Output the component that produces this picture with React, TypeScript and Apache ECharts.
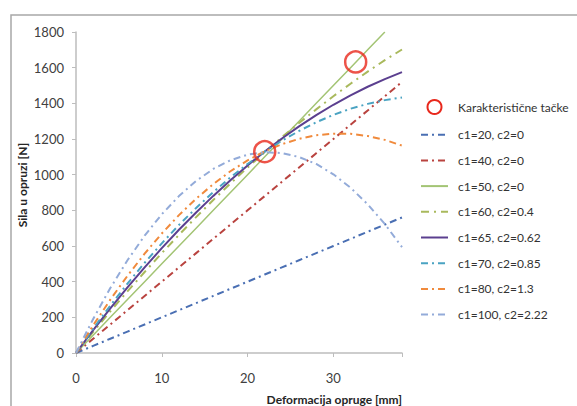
import React, { useEffect, useRef } from "react";
import * as echarts from "echarts";

const xValues = [0, 2, 4, 6, 8, 10, 12, 14, 16, 18, 20, 22, 24, 26, 28, 30, 32, 34, 36, 38];
const xGreen = [0, 2, 4, 6, 8, 10, 12, 14, 16, 18, 20, 22, 24, 26, 28, 30, 32, 34, 36];

const s20 = [0, 40, 80, 120, 160, 200, 240, 280, 320, 360, 400, 440, 480, 520, 560, 600, 640, 680, 720, 760];
const s40 = [0, 80, 160, 240, 320, 400, 480, 560, 640, 720, 800, 880, 960, 1040, 1120, 1200, 1280, 1360, 1440, 1520];
const s50 = [0, 100, 200, 300, 400, 500, 600, 700, 800, 900, 1000, 1100, 1200, 1300, 1400, 1500, 1600, 1700, 1800];
const s60 = [0, 118, 234, 346, 454, 560, 662, 762, 858, 950, 1040, 1126, 1210, 1290, 1366, 1440, 1510, 1578, 1642, 1702];
const s65 = [0, 128, 250, 368, 480, 588, 691, 788, 881, 969, 1052, 1130, 1203, 1271, 1334, 1392, 1445, 1493, 1536, 1575];
const s70 = [0, 137, 266, 389, 506, 615, 718, 813, 902, 985, 1060, 1129, 1190, 1245, 1294, 1335, 1370, 1397, 1418, 1433];
const s80 = [0, 155, 299, 433, 557, 670, 773, 865, 947, 1019, 1080, 1131, 1171, 1201, 1221, 1230, 1229, 1217, 1195, 1163];
const s100 = [0, 191, 364, 520, 658, 778, 880, 965, 1032, 1081, 1112, 1126, 1121, 1099, 1060, 1002, 927, 834, 723, 594];

const charX = [22, 32.6];
const charY = [1129, 1632];

const yTicks = [0, 200, 400, 600, 800, 1000, 1200, 1400, 1600, 1800];
const xTicks = [0, 10, 20, 30];

const FONT = "Lato";
const DASHDOT = [7, 4, 2, 4];

function lineSeries(name: string, xs: number[], ys: number[], color: string, width: number, type: any) {
  return {
    name,
    type: "line",
    data: xs.map((x, i) => [x, ys[i]]),
    symbol: "none",
    showSymbol: false,
    lineStyle: { color, width, type },
    itemStyle: { color },
    z: 2,
  };
}

const lineNames = [
  "c1=20, c2=0",
  "c1=40, c2=0",
  "c1=50, c2=0",
  "c1=60, c2=0.4",
  "c1=65, c2=0.62",
  "c1=70, c2=0.85",
  "c1=80, c2=1.3",
  "c1=100, c2=2.22",
];

export default function App() {
  const ref = useRef<HTMLDivElement>(null);
  useEffect(() => {
    document.body.style.margin = "0";
    const chart = echarts.init(ref.current!, null, { renderer: "svg" });
    const option = {
      animation: false,
      backgroundColor: "#ffffff",
      textStyle: { fontFamily: FONT },
      grid: { left: 76, right: 175, top: 32, bottom: 53, containLabel: false },
      xAxis: {
        type: "value",
        min: 0,
        max: 38,
        interval: 10,
        axisLine: { show: true, lineStyle: { color: "#bdbdbd", width: 1.5 } },
        axisTick: { show: true, length: 4, lineStyle: { color: "#bdbdbd" } },
        axisLabel: {
          color: "#404040",
          fontSize: 13,
          fontFamily: FONT,
          margin: 18,
          formatter: (v: number) => (xTicks.includes(v) ? String(v) : ""),
        },
        splitLine: { show: false },
      },
      yAxis: {
        type: "value",
        min: 0,
        max: 1800,
        interval: 200,
        axisLine: { show: true, lineStyle: { color: "#bdbdbd", width: 1.5 } },
        axisTick: { show: true, length: 4, lineStyle: { color: "#bdbdbd" } },
        axisLabel: {
          color: "#404040",
          fontSize: 13,
          fontFamily: FONT,
          margin: 12,
          formatter: (v: number) => (yTicks.includes(v) ? String(v) : ""),
        },
        splitLine: { show: false },
      },
      legend: {
        orient: "vertical",
        left: 415,
        top: 94,
        itemWidth: 27,
        itemHeight: 14,
        itemGap: 13.7,
        itemStyle: { opacity: 0 },
        textStyle: { fontFamily: FONT, fontSize: 12, color: "#333333", padding: [0, 0, 0, 5] },
        data: [
          { name: "Karakteristične tačke", icon: "circle", itemStyle: { opacity: 1 } },
          ...lineNames,
        ],
      },
      series: [
        lineSeries(lineNames[0], xValues, s20, "#4a6fb3", 2, DASHDOT),
        lineSeries(lineNames[1], xValues, s40, "#b9433f", 2, DASHDOT),
        lineSeries(lineNames[2], xGreen, s50, "#a3c474", 1.5, "solid"),
        lineSeries(lineNames[3], xValues, s60, "#a9b95c", 2, [8, 5, 2, 5]),
        lineSeries(lineNames[4], xValues, s65, "#5b3f8f", 2, "solid"),
        lineSeries(lineNames[5], xValues, s70, "#4aa3c2", 2, DASHDOT),
        lineSeries(lineNames[6], xValues, s80, "#f08a3c", 2, DASHDOT),
        lineSeries(lineNames[7], xValues, s100, "#93abd9", 2, DASHDOT),
        {
          name: "Karakteristične tačke",
          type: "scatter",
          data: charX.map((x, i) => [x, charY[i]]),
          symbol: "circle",
          symbolSize: 21,
          itemStyle: { color: "rgba(255,255,255,0)", borderColor: "#e8281c", borderWidth: 2.5 },
          z: 5,
        },
      ],
      graphic: [
        {
          type: "rect",
          shape: { x: 11, y: 15, width: 700, height: 500 },
          style: { fill: "none", stroke: "#a8a8a8", lineWidth: 1.5 },
          silent: true,
          z: -1,
        },
        {
          type: "text",
          x: 402,
          y: 399,
          style: {
            text: "Deformacija opruge [mm]",
            fontFamily: FONT,
            fontWeight: "bold",
            fontSize: 12,
            fill: "#262626",
            textAlign: "right",
            textVerticalAlign: "middle",
          },
        },
        {
          type: "text",
          x: 22,
          y: 185,
          rotation: Math.PI / 2,
          style: {
            text: "Sila u opruzi [N]",
            fontFamily: FONT,
            fontWeight: "bold",
            fontSize: 12,
            fill: "#262626",
            textAlign: "center",
            textVerticalAlign: "middle",
          },
        },
      ],
    };
    chart.setOption(option as any);
    return () => chart.dispose();
  }, []);
  return <div ref={ref} style={{ width: 577, height: 406 }} />;
}
